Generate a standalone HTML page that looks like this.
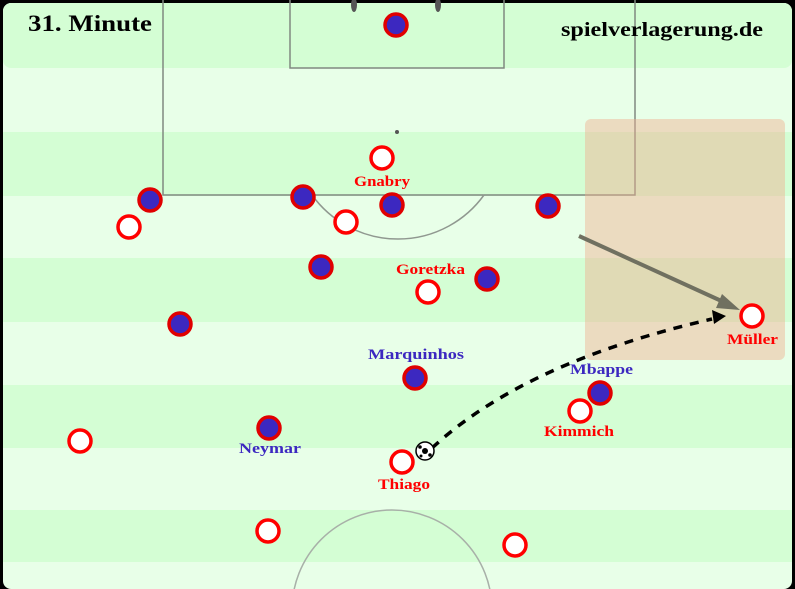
<!DOCTYPE html><html><head><meta charset="utf-8"><style>html,body{margin:0;padding:0;width:795px;height:589px;overflow:hidden;background:#000}svg{display:block}</style></head><body>
<svg width="795" height="589" xmlns="http://www.w3.org/2000/svg" font-family="Liberation Serif, serif" font-weight="bold">
<rect x="0" y="0" width="795" height="589" fill="#000"/>
<rect x="3" y="3" width="789" height="586" rx="8" fill="#e8ffe8"/>
<g fill="#d4fed4">
<rect x="3" y="3" width="789" height="65" rx="8"/>
<rect x="3" y="132" width="789" height="64"/>
<rect x="3" y="258" width="789" height="64"/>
<rect x="3" y="385" width="789" height="63"/>
<rect x="3" y="510" width="789" height="52"/>
</g>
<g fill="none" stroke="#808880" stroke-width="1.5">
<path d="M163 0 V195 H635 V0"/>
<path d="M290 0 V68 H504 V0"/>
<path d="M312 195 A106 106 0 0 0 484 195" stroke="#909890"/>
<circle cx="392" cy="610" r="100" stroke="#a8b0a8"/>
</g>
<circle cx="397" cy="132" r="2" fill="#555"/>
<ellipse cx="354" cy="5" rx="3" ry="7" fill="#555"/>
<ellipse cx="438" cy="5" rx="3" ry="7" fill="#555"/>
<rect x="585" y="119" width="200" height="241" rx="6" fill="#f0b090" opacity="0.45"/>
<line x1="579" y1="236" x2="728" y2="304" stroke="#707060" stroke-width="4"/>
<polygon points="740,310 722,294 716,308" fill="#707060"/>
<path d="M432 448 Q525 362 712 319" fill="none" stroke="#000" stroke-width="3.5" stroke-dasharray="9,8"/>
<polygon points="726,316 712,310 714,324" fill="#000"/>
<g fill="#3c28c0" stroke="#e00000" stroke-width="3.5">
<circle cx="396" cy="25" r="11"/><circle cx="150" cy="200" r="11"/><circle cx="303" cy="197" r="11"/><circle cx="392" cy="205" r="11"/><circle cx="548" cy="206" r="11"/><circle cx="321" cy="267" r="11"/><circle cx="487" cy="279" r="11"/><circle cx="180" cy="324" r="11"/><circle cx="415" cy="378" r="11"/><circle cx="600" cy="393" r="11"/><circle cx="269" cy="428" r="11"/>
</g>
<g fill="#fff" stroke="#f00" stroke-width="3.5">
<circle cx="382" cy="158" r="11"/><circle cx="129" cy="227" r="11"/><circle cx="346" cy="222" r="11"/><circle cx="428" cy="292" r="11"/><circle cx="752" cy="316" r="11"/><circle cx="580" cy="411" r="11"/><circle cx="80" cy="441" r="11"/><circle cx="402" cy="462" r="11"/><circle cx="268" cy="531" r="11"/><circle cx="515" cy="545" r="11"/>
</g>
<circle cx="425" cy="451" r="9" fill="#fff" stroke="#000" stroke-width="1.5"/>
<circle cx="425" cy="451" r="3" fill="#000"/><circle cx="420" cy="447" r="1.8" fill="#000"/><circle cx="430" cy="455" r="1.8" fill="#000"/><circle cx="421" cy="456" r="1.5" fill="#000"/>
<g font-size="15" fill="#f00" lengthAdjust="spacingAndGlyphs">
<text x="354" y="186" textLength="56" lengthAdjust="spacingAndGlyphs">Gnabry</text>
<text x="396" y="274" textLength="69" lengthAdjust="spacingAndGlyphs">Goretzka</text>
<text x="727" y="344" textLength="51" lengthAdjust="spacingAndGlyphs">Müller</text>
<text x="544" y="436" textLength="70" lengthAdjust="spacingAndGlyphs">Kimmich</text>
<text x="378" y="489" textLength="52" lengthAdjust="spacingAndGlyphs">Thiago</text>
</g>
<g font-size="15" fill="#3c28c0">
<text x="368" y="359" textLength="96" lengthAdjust="spacingAndGlyphs">Marquinhos</text>
<text x="570" y="374" textLength="63" lengthAdjust="spacingAndGlyphs">Mbappe</text>
<text x="239" y="453" textLength="62" lengthAdjust="spacingAndGlyphs">Neymar</text>
</g>
<text x="28" y="31" font-size="23" fill="#000" textLength="124" lengthAdjust="spacingAndGlyphs">31. Minute</text>
<text x="561" y="36" font-size="20" fill="#000" textLength="202" lengthAdjust="spacingAndGlyphs">spielverlagerung.de</text>
</svg>
</body></html>
